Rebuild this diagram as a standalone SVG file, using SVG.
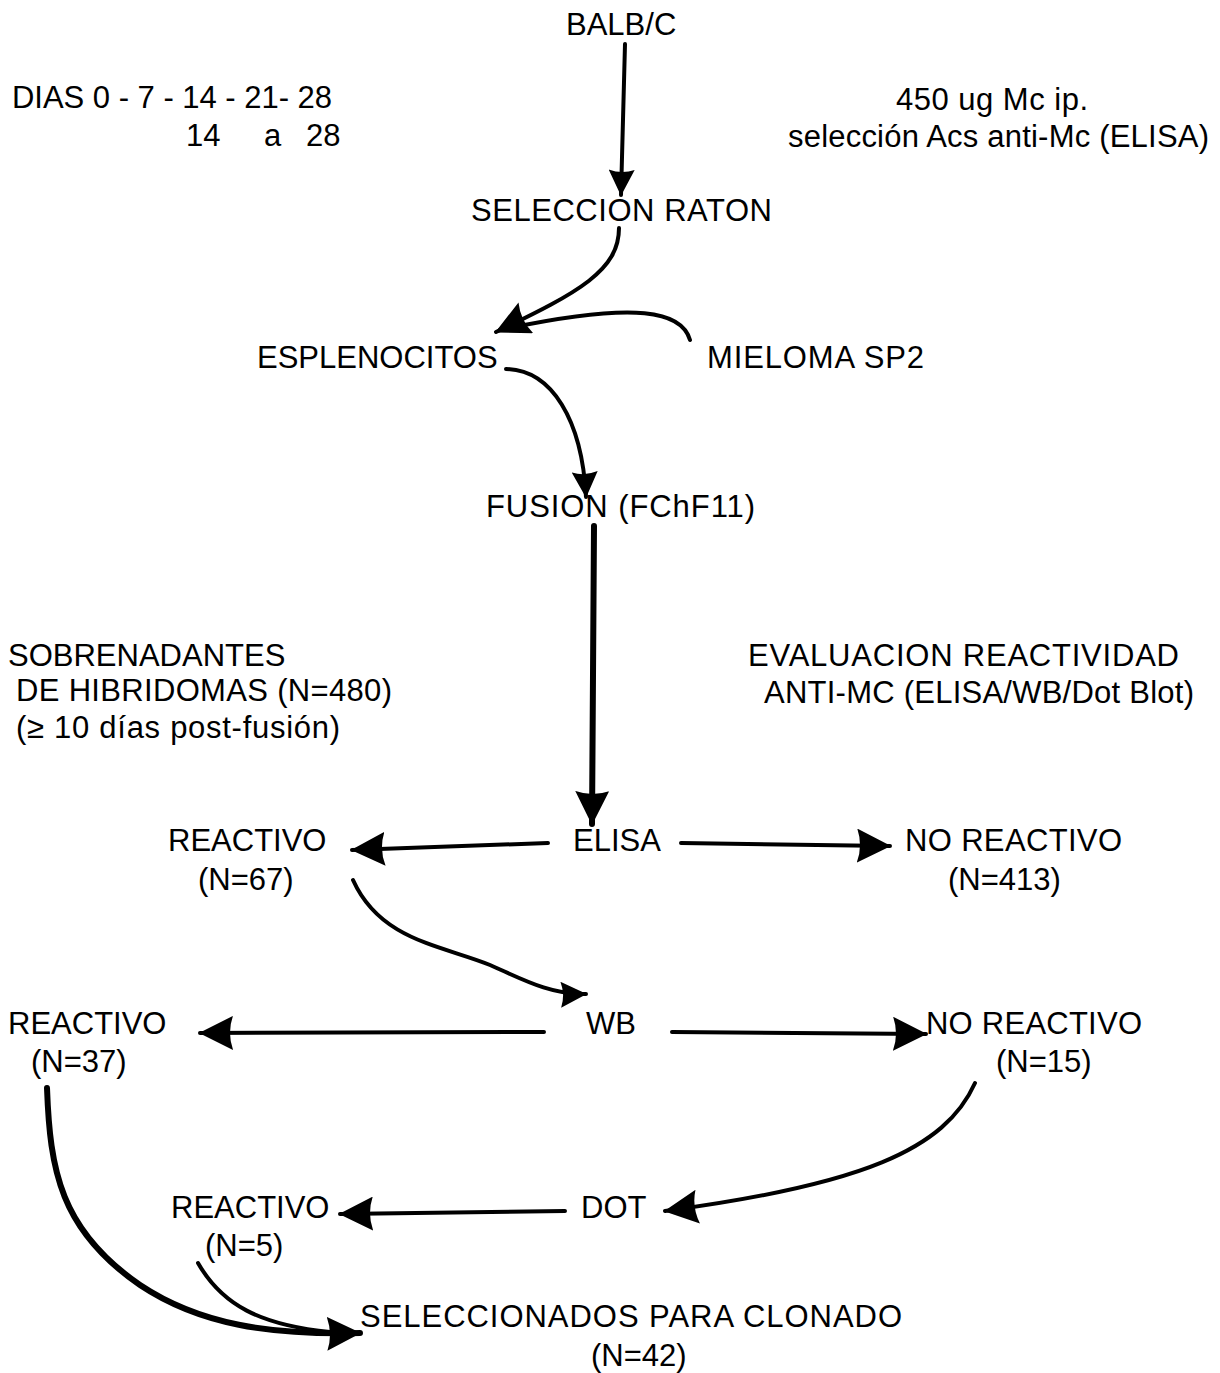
<svg xmlns="http://www.w3.org/2000/svg" width="1220" height="1373" viewBox="0 0 1220 1373">
<style>
text{font-family:"Liberation Sans",Arial,Helvetica,sans-serif;font-size:31px;fill:#000}
.c{fill:none;stroke:#000;stroke-width:4;stroke-linecap:round}
.t{stroke-width:6}
</style>
<defs>
<marker id="ah" markerUnits="userSpaceOnUse" viewBox="0 0 34 34" markerWidth="34" markerHeight="34" refX="33" refY="17" orient="auto">
<path d="M0,0 L34,17 L0,34 Q6,17 0,0 Z" fill="#000"/>
</marker>
<marker id="ahs" markerUnits="userSpaceOnUse" viewBox="0 0 34 34" markerWidth="28" markerHeight="26" refX="33" refY="17" orient="auto">
<path d="M0,0 L34,17 L0,34 Q6,17 0,0 Z" fill="#000"/>
</marker>
</defs>
<rect width="1220" height="1373" fill="#fff"/>
<g id="connectors">
<path class="c" d="M625,44 L621,195" marker-end="url(#ahs)"/>
<path class="c" d="M619,228 C619,270 580,292 496,332" marker-end="url(#ah)"/>
<path class="c" d="M690,340 C682,312 640,300 500,330"/>
<path class="c" d="M506,369 C552,370 582,420 586,497" marker-end="url(#ahs)"/>
<path class="c t" d="M594,526 L592,824" marker-end="url(#ah)"/>
<path class="c" d="M548,843 L352,850" marker-end="url(#ah)"/>
<path class="c" d="M681,843 L890,846" marker-end="url(#ah)"/>
<path class="c" d="M353,880 C380,940 440,945 490,965 C520,978 550,995 586,994" marker-end="url(#ahs)"/>
<path class="c" d="M544,1032 L200,1033" marker-end="url(#ah)"/>
<path class="c" d="M672,1032 L926,1034" marker-end="url(#ah)"/>
<path class="c" d="M975,1083 C945,1150 860,1185 665,1211" marker-end="url(#ah)"/>
<path class="c" d="M565,1211 L340,1214" marker-end="url(#ah)"/>
<path class="c t" d="M47,1088 C50,1170 60,1230 140,1285 C200,1325 270,1335 360,1333" marker-end="url(#ah)"/>
<path class="c" d="M198,1263 C222,1305 260,1325 330,1332"/>
</g>
<g id="balbc"><text x="566" y="35">BALB/C</text></g>
<g id="dias"><text x="12" y="108" textLength="320" lengthAdjust="spacing">DIAS 0 - 7 - 14 - 21- 28</text>
<text x="186" y="146">14</text><text x="264" y="146">a</text><text x="306" y="146">28</text></g>
<g id="dosis"><text x="896" y="110" textLength="192" lengthAdjust="spacing">450 ug Mc ip.</text>
<text x="788" y="147" textLength="421" lengthAdjust="spacing">selección Acs anti-Mc (ELISA)</text></g>
<g id="seleccion-raton"><text x="471" y="221" textLength="301" lengthAdjust="spacing">SELECCION RATON</text></g>
<g id="esplenocitos"><text x="257" y="368">ESPLENOCITOS</text></g>
<g id="mieloma"><text x="707" y="368" textLength="217" lengthAdjust="spacing">MIELOMA SP2</text></g>
<g id="fusion"><text x="486" y="517" textLength="269" lengthAdjust="spacing">FUSION (FChF11)</text></g>
<g id="sobrenadantes"><text x="8" y="666">SOBRENADANTES</text>
<text x="16" y="701" textLength="376" lengthAdjust="spacing">DE HIBRIDOMAS (N=480)</text>
<text x="16" y="738" textLength="324" lengthAdjust="spacing">(≥ 10 días post-fusión)</text></g>
<g id="evaluacion"><text x="748" y="666" textLength="431" lengthAdjust="spacing">EVALUACION REACTIVIDAD</text>
<text x="764" y="703" textLength="430" lengthAdjust="spacing">ANTI-MC (ELISA/WB/Dot Blot)</text></g>
<g id="elisa"><text x="573" y="851">ELISA</text></g>
<g id="reactivo67"><text x="168" y="851">REACTIVO</text><text x="198" y="890">(N=67)</text></g>
<g id="noreactivo413"><text x="905" y="851" textLength="217" lengthAdjust="spacing">NO REACTIVO</text><text x="948" y="890">(N=413)</text></g>
<g id="wb"><text x="586" y="1034">WB</text></g>
<g id="reactivo37"><text x="8" y="1034">REACTIVO</text><text x="31" y="1072">(N=37)</text></g>
<g id="noreactivo15"><text x="926" y="1034" textLength="216" lengthAdjust="spacing">NO REACTIVO</text><text x="996" y="1072">(N=15)</text></g>
<g id="dot"><text x="581" y="1218">DOT</text></g>
<g id="reactivo5"><text x="171" y="1218">REACTIVO</text><text x="205" y="1256">(N=5)</text></g>
<g id="seleccionados"><text x="360" y="1327" textLength="542" lengthAdjust="spacing">SELECCIONADOS PARA CLONADO</text><text x="591" y="1366">(N=42)</text></g>
</svg>
